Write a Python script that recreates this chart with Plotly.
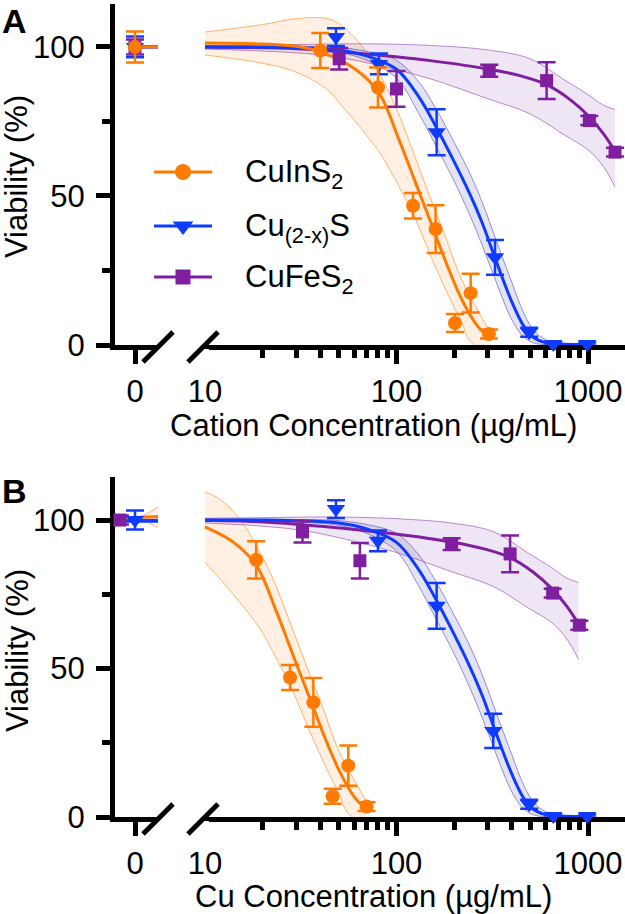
import plotly.graph_objects as go

FONT = "Liberation Sans, Arial, Helvetica, sans-serif"
ORANGE = "#FF7A00"
BLUE = "#0F3BFF"
PURPLE = "#7F1FA0"
W, H = 625, 914

# ---------------- Panel A : cation concentration ----------------
A_cis_x = [40, 80, 122, 160, 202, 244, 304]
A_cis_y = [98.8, 86.4, 46.7, 38.9, 7.4, 17.4, 3.7]
A_cis_e = [5.9, 6.7, 4.3, 8.0, 3.0, 6.5, 1.5]
A_cs_x = [48.3, 81, 162, 327, 493, 659, 991]
A_cs_y = [103.3, 94.3, 71.4, 29.4, 4.3, 0.3, 0.3]
A_cs_e = [3.0, 3.5, 7.7, 5.8, 1.5, 0.5, 0.5]
A_cfs_x = [50.2, 100, 305, 608, 1016, 1384]
A_cfs_y = [96, 85.9, 92, 88.7, 75.3, 64.7]
A_cfs_e = [3.6, 6.0, 2.0, 6.2, 1.5, 1.5]
A_ctrl_x = [0, 0, 0]
A_ctrl_y = [100, 100, 100]
A_ctrl_e = [5.2, 3.5, 2.5]

# fitted curves and confidence bands
A_cis_fit_x = [10, 20, 30, 41, 61, 81, 103, 126, 154, 188, 220, 259, 304]
A_cis_fit_y = [101.3, 101.0, 100.2, 98.1, 92.5, 84.6, 68.9, 54.3, 39.7, 25.2, 15.1, 7.2, 2.4]
A_cis_hi_x = [10, 20, 30, 43.5, 52, 66, 81, 98.7, 121, 147, 180, 212, 249, 304]
A_cis_hi_y = [105, 107.5, 109.5, 109.5, 107, 100.3, 91.3, 80.1, 65.6, 50.9, 36.4, 24, 15, 5]
A_cis_lo_x = [10, 20, 30, 43.5, 52, 66, 84, 103, 126, 154, 188, 220, 240, 304]
A_cis_lo_y = [97.3, 94.5, 91.5, 85.7, 80.1, 72.3, 63.3, 53.2, 42, 28.5, 16.2, 7.2, 1.6, -3]

cs_fit_x = [10, 30, 50, 70, 100, 130, 160, 200, 240, 280, 330, 400, 460, 520, 600, 700, 991]
cs_fit_y = [100, 99.8, 99, 97, 92.5, 83.5, 73.5, 61.5, 51, 41, 28.5, 14.5, 6.5, 2.5, 0.8, 0.3, 0.2]
cs_hi_y = [100.3, 100.2, 99.8, 98.5, 95.5, 88.5, 79.5, 68, 58, 48, 35.5, 21, 11, 5, 1.8, 0.7, 0.4]
cs_lo_y = [99.7, 99.3, 98.2, 95.5, 89.5, 78, 67, 55, 44, 33.5, 21.5, 8.5, 2.8, 0.7, 0.1, 0, 0]

A_cfs_fit_x = [10, 30, 50, 82, 150, 300, 450, 600, 800, 1000, 1200, 1384]
A_cfs_fit_y = [100, 99.4, 98.4, 97.2, 95.4, 92.6, 90.2, 87.5, 82.5, 77, 71, 65]
A_cfs_band_x = [10, 30, 50, 82, 150, 300, 500, 750, 1000, 1200, 1384]
A_cfs_hi_y = [100.5, 100.8, 101, 101, 100.5, 99, 96, 89, 84, 80.5, 79]
A_cfs_lo_y = [99.3, 98, 96.5, 93.7, 89.3, 82.6, 77.5, 70.5, 65.5, 60, 53]

# ---------------- Panel B : Cu concentration ----------------
B_cis_x = [18.5, 27.8, 36.8, 46.4, 56, 69.8]
B_cis_y = [86.6, 47, 38.6, 7, 17.3, 3.5]
B_cis_e = [6.3, 4.2, 8.2, 2.5, 6.8, 1.5]
B_cs_x = [48.3, 80, 162, 320, 493, 659, 991]
B_cs_y = [103.7, 93, 71.1, 29, 4.3, 0.3, 0.3]
B_cs_e = [3.0, 3.5, 7.7, 5.8, 1.5, 0.5, 0.5]
B_cfs_x = [32.3, 64.4, 194, 392, 654, 901]
B_cfs_y = [96, 86.3, 91.9, 88.6, 75.4, 64.6]
B_cfs_e = [3.6, 6.0, 2.0, 6.2, 1.5, 1.5]
B_ctrl_cfs = ([-0.42], [100], [1.5])
B_ctrl_cs = ([0], [100], [3.2])

B_cis_fit_x = [10, 14.1, 18.6, 23.7, 28.9, 35.4, 43.2, 50.7, 59.5, 70]
B_cis_fit_y = [97.7, 92.5, 84.6, 68.9, 54.3, 39.7, 25.2, 15.1, 7.2, 2.4]
B_cis_hi_x = [10, 12, 15.2, 18.6, 22.7, 27.8, 33.9, 41.5, 48.7, 57.2, 70]
B_cis_hi_y = [109.5, 107, 100.3, 91.3, 80.1, 65.6, 50.9, 36.4, 24, 15, 5]
B_cis_lo_x = [10, 12, 15.2, 19.4, 23.7, 28.9, 35.4, 43.2, 50.7, 55.2, 70]
B_cis_lo_y = [85.7, 80.1, 72.3, 63.3, 53.2, 42, 28.5, 16.2, 7.2, 1.6, -3]

B_cfs_fit_x = [10, 19.4, 32.3, 53, 97, 194, 290, 387, 516, 645, 774, 893]
B_cfs_fit_y = [99.9, 99.4, 98.4, 97.2, 95.4, 92.6, 90.2, 87.5, 82.5, 77, 71, 65]
B_cfs_band_x = [10, 19.4, 32.3, 53, 97, 194, 323, 484, 645, 774, 893]
B_cfs_hi_y = [100.6, 100.8, 101, 101, 100.5, 99, 96, 89, 84, 80.5, 79]
B_cfs_lo_y = [99, 98, 96.5, 93.7, 89.3, 82.6, 77.5, 70.5, 65.5, 60, 53]

# short curve stubs in the "0" segment
A_stub_x = [0, 0.64]
A_stub_cis = [100, 100]
A_stub_cs = [100, 100]
A_stub_cfs = [100, 100]
B_stub_x = [-0.56, 0.64]
B_stub_cis = [100.6, 101.2]
B_stub_cs = [99.6, 99.6]
B_stub_cfs = [99.9, 99.9]
B_stub_band_x = [0.15, 0.64]
B_stub_band_hi = [100.9, 104.3]
B_stub_band_lo = [100.4, 97.5]

legend_names = ["CuInS<sub>2</sub>", "Cu<sub>(2-x)</sub>S", "CuFeS<sub>2</sub>"]
colors = [ORANGE, BLUE, PURPLE]
symbols = ["circle", "triangle-down", "square"]
msizes = [14, 16, 13]
band_line = ["rgba(255,122,0,0.55)", "rgba(70,60,160,0.55)", "rgba(127,31,160,0.5)"]
band_fill = ["rgba(255,140,40,0.13)", "rgba(90,80,180,0.16)", "rgba(127,60,170,0.13)"]

fig = go.Figure()


def band(xl, yl, xh, yh, k, xa, ya):
    fig.add_trace(go.Scatter(x=xl, y=yl, mode="lines", xaxis=xa, yaxis=ya,
                             line=dict(color=band_line[k], width=1, shape="spline"),
                             showlegend=False, hoverinfo="skip"))
    fig.add_trace(go.Scatter(x=xh, y=yh, mode="lines", xaxis=xa, yaxis=ya,
                             line=dict(color=band_line[k], width=1, shape="spline"),
                             fill="tonexty", fillcolor=band_fill[k],
                             showlegend=False, hoverinfo="skip"))


def curve(x, y, k, xa, ya, w=3):
    fig.add_trace(go.Scatter(x=x, y=y, mode="lines", xaxis=xa, yaxis=ya,
                             line=dict(color=colors[k], width=w, shape="spline"),
                             showlegend=False, hoverinfo="skip"))


def pts(x, y, e, k, xa, ya):
    fig.add_trace(go.Scatter(x=x, y=y, mode="markers", xaxis=xa, yaxis=ya,
                             marker=dict(symbol=symbols[k], size=msizes[k], color=colors[k]),
                             error_y=dict(type="data", array=e, color=colors[k], thickness=2.5, width=9),
                             cliponaxis=False, showlegend=False))


# ---- Panel A right segment
band(A_cis_lo_x, A_cis_lo_y, A_cis_hi_x, A_cis_hi_y, 0, "x2", "y2")
band(cs_fit_x, cs_lo_y, cs_fit_x, cs_hi_y, 1, "x2", "y2")
band(A_cfs_band_x, A_cfs_lo_y, A_cfs_band_x, A_cfs_hi_y, 2, "x2", "y2")
curve(A_cfs_fit_x, A_cfs_fit_y, 2, "x2", "y2")
curve(cs_fit_x, cs_fit_y, 1, "x2", "y2")
curve(A_cis_fit_x, A_cis_fit_y, 0, "x2", "y2")
pts(A_cfs_x, A_cfs_y, A_cfs_e, 2, "x2", "y2")
pts(A_cs_x, A_cs_y, A_cs_e, 1, "x2", "y2")
pts(A_cis_x, A_cis_y, A_cis_e, 0, "x2", "y2")
# ---- Panel A zero segment
curve(A_stub_x, A_stub_cfs, 2, "x", "y")
curve(A_stub_x, A_stub_cs, 1, "x", "y")
curve(A_stub_x, A_stub_cis, 0, "x", "y")
for k in [2, 1, 0]:
    pts([A_ctrl_x[k]], [A_ctrl_y[k]], [A_ctrl_e[k]], k, "x", "y")

# ---- Panel B right segment
band(B_cis_lo_x, B_cis_lo_y, B_cis_hi_x, B_cis_hi_y, 0, "x4", "y4")
band(cs_fit_x, cs_lo_y, cs_fit_x, cs_hi_y, 1, "x4", "y4")
band(B_cfs_band_x, B_cfs_lo_y, B_cfs_band_x, B_cfs_hi_y, 2, "x4", "y4")
curve(B_cfs_fit_x, B_cfs_fit_y, 2, "x4", "y4")
curve(cs_fit_x, cs_fit_y, 1, "x4", "y4")
curve(B_cis_fit_x, B_cis_fit_y, 0, "x4", "y4")
pts(B_cfs_x, B_cfs_y, B_cfs_e, 2, "x4", "y4")
pts(B_cs_x, B_cs_y, B_cs_e, 1, "x4", "y4")
pts(B_cis_x, B_cis_y, B_cis_e, 0, "x4", "y4")
# ---- Panel B zero segment
band(B_stub_band_x, B_stub_band_lo, B_stub_band_x, B_stub_band_hi, 0, "x3", "y3")
curve(B_stub_x, B_stub_cfs, 2, "x3", "y3")
curve(B_stub_x, B_stub_cs, 1, "x3", "y3")
curve(B_stub_x, B_stub_cis, 0, "x3", "y3")
pts(*B_ctrl_cfs, 2, "x3", "y3")
pts(*B_ctrl_cs, 1, "x3", "y3")

# ---- legend keys (overlay axis in pixel units)
leg_rows = [172, 226, 277]
for k in range(3):
    fig.add_trace(go.Scatter(x=[154, 212], y=[leg_rows[k]] * 2, mode="lines", xaxis="x5", yaxis="y5",
                             line=dict(color=colors[k], width=3), showlegend=False, hoverinfo="skip"))
    fig.add_trace(go.Scatter(x=[183], y=[leg_rows[k]], mode="markers", xaxis="x5", yaxis="y5",
                             marker=dict(symbol=symbols[k], size=msizes[k] + 2, color=colors[k]),
                             showlegend=False, hoverinfo="skip"))

FS = 31
LW = 5
tickfont = dict(family=FONT, size=FS, color="black")
common = dict(showline=True, linecolor="black", linewidth=LW, ticks="outside", tickwidth=LW,
              tickcolor="black", tickfont=tickfont, showgrid=False, zeroline=False,
              layer="below traces", fixedrange=True, automargin=False)


def ydom(top, bottom):
    return [1 - bottom / H, 1 - top / H]


yA = ydom(4, 345)
yB = ydom(477, 817)
xL = [115 / W, 158 / W]
xR = [203 / W, 1.0]
yrangeA = [0, 114.4]
yrangeB = [0, 114.5]
xlrange = [-0.556, 0.639]
xrrange = [0.9896, 3.1932]

minor_x = dict(tickvals=[20, 30, 40, 50, 60, 70, 80, 90, 200, 300, 400, 500, 600, 700, 800, 900],
               ticklen=8, tickwidth=LW, tickcolor="black", ticks="outside")

yax = dict(common, tickvals=[0, 50, 100], ticklen=14, ticklabelstandoff=5,
           minor=dict(tickvals=[25, 75], ticklen=8, tickwidth=LW, tickcolor="black", ticks="outside"))
hidden = dict(visible=False, fixedrange=True, automargin=False)

fig.update_layout(
    width=W, height=H, margin=dict(l=0, r=0, t=0, b=0, autoexpand=False),
    paper_bgcolor="white", plot_bgcolor="rgba(0,0,0,0)",
    showlegend=False,
    font=dict(family=FONT, color="black"),
    xaxis=dict(common, domain=xL, range=xlrange, tickvals=[0], ticklen=14, anchor="y", ticklabelstandoff=1),
    yaxis=dict(yax, domain=yA, range=yrangeA, anchor="x"),
    xaxis2=dict(common, domain=xR, type="log", range=xrrange, tickvals=[10, 100, 1000],
                ticktext=["10", "100", "1000"], ticklen=14, anchor="y2", minor=minor_x, ticklabelstandoff=1),
    yaxis2=dict(hidden, domain=yA, range=yrangeA, anchor="x2"),
    xaxis3=dict(common, domain=xL, range=xlrange, tickvals=[0], ticklen=14, anchor="y3", ticklabelstandoff=1),
    yaxis3=dict(yax, domain=yB, range=yrangeB, anchor="x3"),
    xaxis4=dict(common, domain=xR, type="log", range=xrrange, tickvals=[10, 100, 1000],
                ticktext=["10", "100", "1000"], ticklen=14, anchor="y4", minor=minor_x, ticklabelstandoff=1),
    yaxis4=dict(hidden, domain=yB, range=yrangeB, anchor="x4"),
    xaxis5=dict(hidden, domain=[0, 1], range=[0, W], anchor="y5"),
    yaxis5=dict(hidden, domain=[0, 1], range=[H, 0], anchor="x5"),
)

shapes = []
for ax in (346, 818):
    # hide tick mark under "10"
    shapes.append(dict(type="rect", xref="paper", yref="paper", x0=201 / W, x1=209 / W,
                       y0=1 - (ax + 19) / H, y1=1 - (ax + 3) / H, fillcolor="white", line=dict(width=0),
                       layer="above"))
for ax in (346, 818):
    for x0 in (143, 188):
        shapes.append(dict(type="line", xref="paper", yref="paper", x0=x0 / W, y0=1 - (ax + 16) / H,
                           x1=(x0 + 30) / W, y1=1 - (ax - 14) / H, line=dict(color="black", width=5),
                           layer="above"))
fig.update_layout(shapes=shapes)

ann = []
ann.append(dict(text="Cation Concentration (µg/mL)", x=373.5 / W, y=1 - 425 / H))
ann.append(dict(text="Cu Concentration (µg/mL)", x=373.5 / W, y=1 - 896 / H))
ann.append(dict(text="Viability (%)", x=17 / W, y=1 - 177 / H, textangle=-90))
ann.append(dict(text="Viability (%)", x=17 / W, y=1 - 651 / H, textangle=-90))
for a in ann:
    a.update(xref="paper", yref="paper", showarrow=False, xanchor="center", yanchor="middle",
             font=dict(family=FONT, size=FS, color="black"))
for k in range(3):
    ann.append(dict(text=legend_names[k], x=243 / W, y=1 - (leg_rows[k] + 2) / H, xref="paper", yref="paper",
                    showarrow=False, xanchor="left", yanchor="middle",
                    font=dict(family=FONT, size=FS, color="black")))
ann.append(dict(text="<b>A</b>", x=0, y=1.0, xref="paper", yref="paper", showarrow=False,
                xanchor="left", yanchor="top", font=dict(family=FONT, size=34, color="black")))
ann.append(dict(text="<b>B</b>", x=0, y=1 - 470 / H, xref="paper", yref="paper", showarrow=False,
                xanchor="left", yanchor="top", font=dict(family=FONT, size=34, color="black")))
fig.update_layout(annotations=ann)

fig.write_html("out.html")
